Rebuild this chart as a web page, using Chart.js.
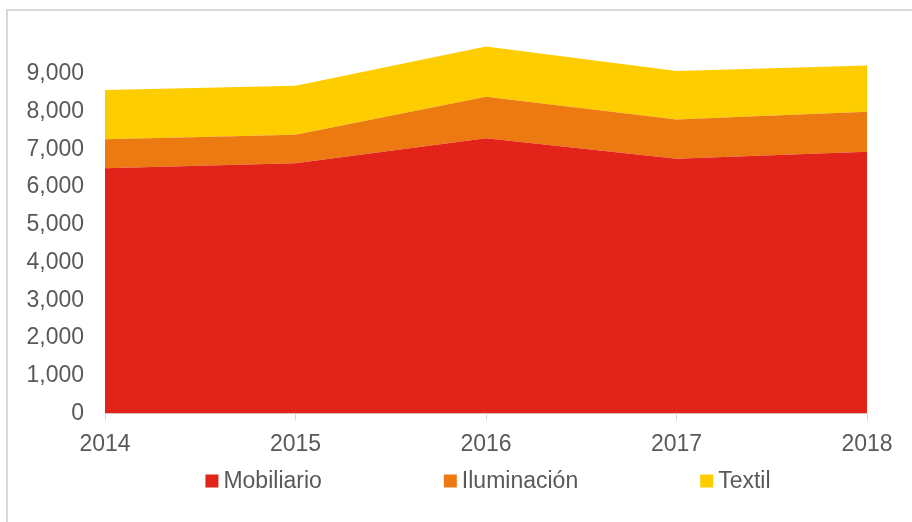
<!DOCTYPE html>
<html>
<head>
<meta charset="utf-8">
<script src="https://cdn.jsdelivr.net/npm/chart.js@4/dist/chart.umd.min.js"></script>
<style>
  html, body { margin: 0; padding: 0; background: #fff; width: 912px; height: 522px; overflow: hidden; }
  #frame { position: absolute; left: 6px; top: 9px; width: 1000px; height: 1000px; border: 2px solid #d9d9d9; box-sizing: border-box; }
  #wrap { position: absolute; left: 0; top: 0; width: 912px; height: 522px; }
</style>
</head>
<body>
<div id="frame"></div>
<div id="wrap"><canvas id="c" width="912" height="522"></canvas></div>
<script>
const years = ['2014', '2015', '2016', '2017', '2018'];
const mobiliario = [6495, 6625, 7290, 6750, 6935];
const iluminacion = [770, 760, 1100, 1035, 1055];
const textil = [1305, 1295, 1330, 1285, 1230];
const seriesNames = ['Mobiliario', 'Iluminación', 'Textil'];
const yTicks = [0, 1000, 2000, 3000, 4000, 5000, 6000, 7000, 8000, 9000];

const colors = ['#e1231a', '#ec7a11', '#fdcd00'];
const FONT = { family: '"Liberation Sans", Arial, sans-serif', size: 23 };
const FONTSTR = '23px "Liberation Sans", Arial, sans-serif';
const TXT = '#595959';

const seriesData = [mobiliario, iluminacion, textil];
const datasets = seriesData.map((d, i) => ({
  label: seriesNames[i],
  data: d,
  backgroundColor: colors[i],
  borderColor: colors[i],
  borderWidth: 0,
  pointRadius: 0,
  tension: 0,
  fill: i === 0 ? 'origin' : '-1'
}));

// simple legend drawn on the canvas (Excel-like spacing)
const excelLegend = {
  id: 'excelLegend',
  afterDraw(chart) {
    const ctx = chart.ctx;
    const ca = chart.chartArea;
    ctx.save();
    ctx.font = FONTSTR;
    ctx.textBaseline = 'middle';
    ctx.textAlign = 'left';
    const box = 13, gapText = 5, gapItem = 122;
    const items = chart.data.datasets.map(ds => ({
      label: ds.label, color: ds.backgroundColor,
      w: box + gapText + ctx.measureText(ds.label).width
    }));
    const total = items.reduce((a, it) => a + it.w, 0) + gapItem * (items.length - 1);
    let x = (ca.left + ca.right) / 2 + 2 - total / 2;
    const y = 481;
    items.forEach(it => {
      ctx.fillStyle = it.color;
      ctx.fillRect(x, y - box / 2, box, box);
      ctx.fillStyle = TXT;
      ctx.fillText(it.label, x + box + gapText, y + 1);
      x += it.w + gapItem;
    });
    ctx.restore();
  }
};

new Chart(document.getElementById('c'), {
  type: 'line',
  data: { labels: years, datasets },
  options: {
    responsive: false,
    animation: false,
    layout: { padding: { left: 0, right: 45, top: 36, bottom: 54 } },
    plugins: {
      tooltip: { enabled: false },
      legend: { display: false }
    },
    scales: {
      x: {
        offset: false,
        grid: { drawOnChartArea: false, drawTicks: true, tickLength: 7, color: '#d9d9d9' },
        border: { color: '#d9d9d9' },
        ticks: { color: TXT, font: FONT, padding: 10, maxRotation: 0 }
      },
      y: {
        stacked: true,
        min: 0, max: 10000,
        afterFit: (s) => { s.width = 105; },
        afterBuildTicks: (s) => { s.ticks = yTicks.concat([10000]).map(v => ({ value: v })); },
        grid: { display: false },
        border: { display: false },
        ticks: {
          color: TXT, font: FONT, padding: 13, autoSkip: false,
          callback: (v) => yTicks.includes(v) ? v.toLocaleString('en-US') : ''
        }
      }
    }
  },
  plugins: [excelLegend]
});
</script>
</body>
</html>
